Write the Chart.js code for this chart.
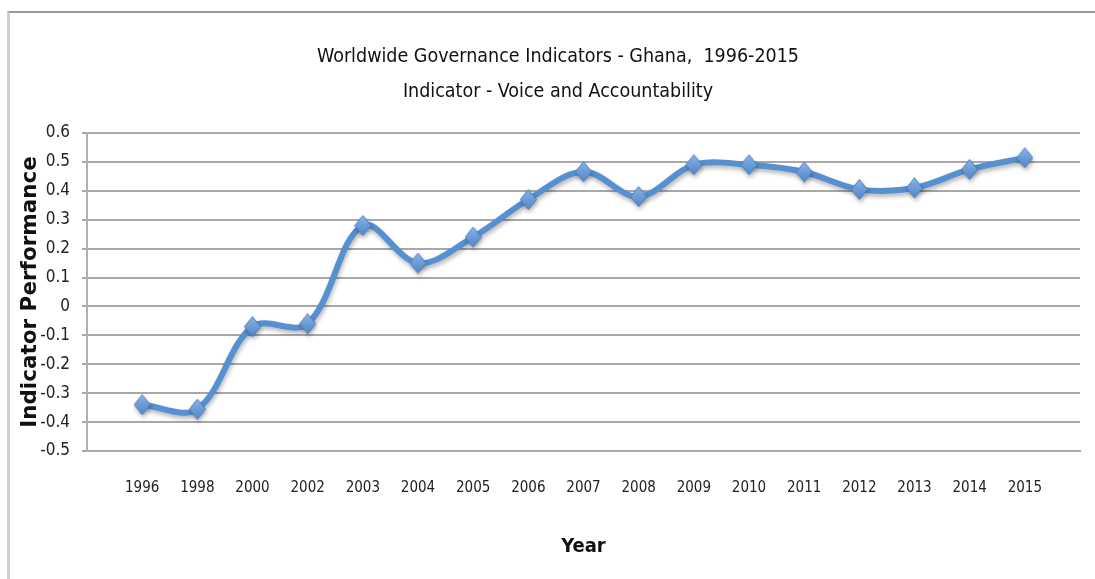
<!DOCTYPE html>
<html>
<head>
<meta charset="utf-8">
<script src="https://cdn.jsdelivr.net/npm/chart.js@4/dist/chart.umd.min.js"></script>
<style>
  html, body { margin: 0; padding: 0; background: #fff; overflow: hidden; }
  #wrap { position: relative; width: 1095px; height: 579px; }
  #frame { position: absolute; left: 7px; top: 11px; width: 1200px; height: 700px;
           border-left: 3px solid #d0d0d0; border-top: 2px solid #9a9a9a; box-sizing: border-box; }
  canvas { position: absolute; left: 0; top: 0; }
</style>
</head>
<body>
<div id="wrap">
  <div id="frame"></div>
  <canvas id="c" width="1095" height="579"></canvas>
</div>
<script>
const titleLines = ['Worldwide Governance Indicators - Ghana,  1996-2015', 'Indicator - Voice and Accountability'];
const years = ['1996','1998','2000','2002','2003','2004','2005','2006','2007','2008','2009','2010','2011','2012','2013','2014','2015'];
const voiceAccountability = [-0.34, -0.355, -0.07, -0.06, 0.28, 0.15, 0.24, 0.37, 0.466, 0.38, 0.49, 0.49, 0.465, 0.405, 0.41, 0.474, 0.514];
const xTitle = 'Year';
const yTitle = 'Indicator Performance';
const yMin = -0.5, yMax = 0.6, yStep = 0.1;

// diamond marker image
function makeDiamond() {
  const w = 17, h = 21;
  const cv = document.createElement('canvas');
  cv.width = w; cv.height = h;
  const g = cv.getContext('2d');
  const grad = g.createLinearGradient(0, 0, 0, h);
  grad.addColorStop(0, '#8ab4e8');
  grad.addColorStop(1, '#4f85c8');
  g.beginPath();
  g.moveTo(w/2, 0.5); g.lineTo(w-0.5, h/2); g.lineTo(w/2, h-0.5); g.lineTo(0.5, h/2); g.closePath();
  g.fillStyle = grad; g.fill();
  g.strokeStyle = '#4a7fc0'; g.lineWidth = 1; g.stroke();
  return cv;
}
const diamond = makeDiamond();

const shadowPlugin = {
  id: 'shadow',
  beforeDatasetsDraw(chart) {
    const ctx = chart.ctx; ctx.save();
    ctx.shadowColor = 'rgba(0,0,0,0.28)'; ctx.shadowBlur = 4; ctx.shadowOffsetX = 1; ctx.shadowOffsetY = 3;
  },
  afterDatasetsDraw(chart) { chart.ctx.restore(); }
};

const narrow = "'Liberation Sans Narrow', 'DejaVu Sans Condensed', sans-serif";
const padL = 36, padR = 15;

new Chart(document.getElementById('c'), {
  type: 'line',
  data: {
    datasets: [{
      data: voiceAccountability.map((v, i) => ({ x: i, y: v })),
      borderColor: '#5690d0',
      borderWidth: 6,
      tension: 0.35,
      pointStyle: diamond,
      pointRadius: 9,
      pointHoverRadius: 9,
      fill: false
    }]
  },
  plugins: [shadowPlugin],
  options: {
    responsive: false,
    animation: false,
    events: [],
    layout: { padding: { left: padL, right: padR, top: 0, bottom: 0 } },
    plugins: {
      legend: { display: false },
      tooltip: { enabled: false },
      title: {
        display: true,
        text: titleLines,
        color: '#111',
        font: { family: narrow, size: 19.5, weight: 'normal', lineHeight: 1.795 },
        padding: { top: 39.5, bottom: 23.5 }
      }
    },
    scales: {
      x: {
        type: 'linear',
        min: -1, max: years.length,
        afterFit(s) { s.height = 128; s.paddingLeft = 0; s.paddingRight = 0; },
        afterBuildTicks(s) { s.ticks = []; for (let i = -1; i <= years.length; i++) s.ticks.push({ value: i }); },
        ticks: {
          autoSkip: false, maxRotation: 0, padding: 20,
          color: '#222',
          font: { family: narrow, size: 15 },
          callback: (v) => years[v] !== undefined ? years[v] : ''
        },
        grid: { display: false },
        border: { display: true, color: '#a8a8a8', width: 2 },
        title: {
          display: true, text: xTitle, color: '#111',
          font: { family: narrow, size: 20, weight: 'bold', lineHeight: 1.2 },
          padding: { top: 0, bottom: 20 }
        }
      },
      y: {
        min: yMin, max: yMax,
        afterFit(s) { s.width = 87 - padL; },
        ticks: {
          stepSize: yStep, padding: 12, color: '#222',
          font: { family: narrow, size: 17 },
          callback: (v) => { const r = Math.round(v * 10) / 10; return r === 0 ? '0' : r.toFixed(1); }
        },
        grid: { color: '#a8a8a8', lineWidth: 2, tickLength: 5, drawTicks: true },
        border: { display: true, color: '#b0b0b0', width: 2 },
        title: {
          display: true, text: yTitle, color: '#111',
          font: { family: "'DejaVu Sans', sans-serif", size: 21.5, weight: 'bold', lineHeight: 1 },
          padding: { top: -16.5, bottom: 0 }
        }
      }
    }
  }
});
</script>
</body>
</html>
